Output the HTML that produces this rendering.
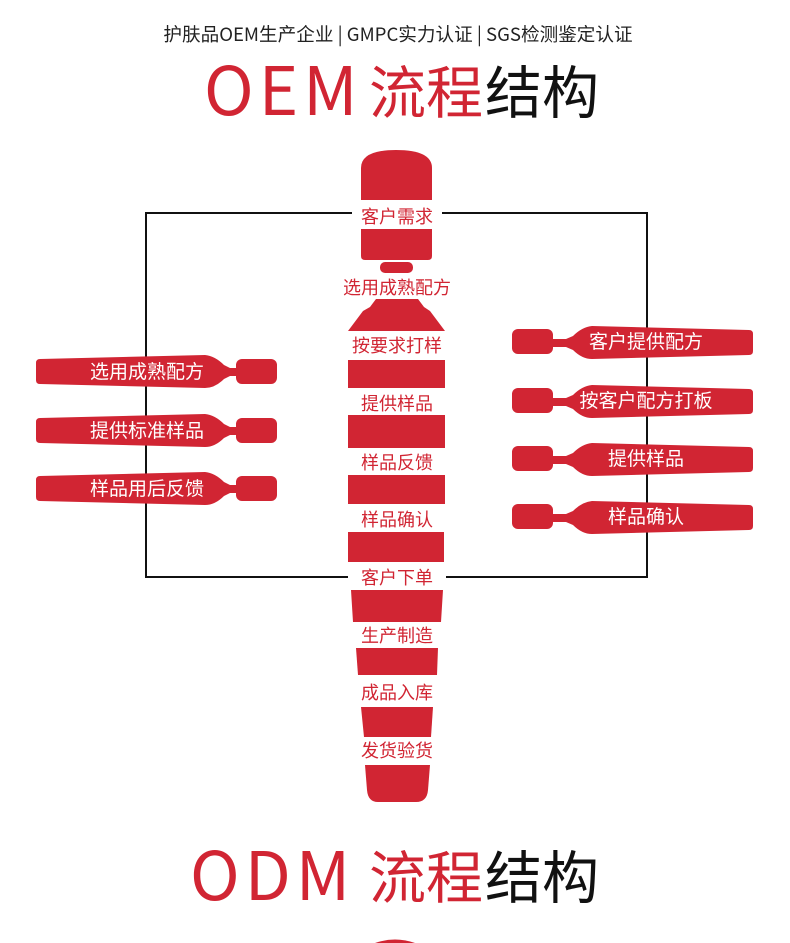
<!DOCTYPE html>
<html><head><meta charset="utf-8"><style>
html,body{margin:0;padding:0;background:#fff;}
svg{display:block;}
text{font-family:"Liberation Sans","Noto Sans CJK SC",sans-serif;}
.c{font-family:"Noto Sans CJK SC","Liberation Sans",sans-serif;}
.t{font-family:"Noto Sans CJK SC","Liberation Sans",sans-serif;font-weight:400;}
</style></head><body>
<svg width="790" height="943" viewBox="0 0 790 943" xmlns="http://www.w3.org/2000/svg">
<text x="398" y="41" text-anchor="middle" font-size="18.6" fill="#222" class="c">护肤品OEM生产企业 | GMPC实力认证 | SGS检测鉴定认证</text>
<text x="204" y="115" font-size="67" fill="#d12533" letter-spacing="5" class="t">OEM</text>
<text x="369" y="113" font-size="57" fill="#d12533" class="c">流程</text>
<text x="485" y="113" font-size="57" fill="#111" class="c">结构</text>

<g stroke="#111" stroke-width="2" fill="none">
<line x1="146" y1="213" x2="352" y2="213"/><line x1="442" y1="213" x2="647" y2="213"/>
<line x1="146" y1="577" x2="348" y2="577"/><line x1="446" y1="577" x2="647" y2="577"/>
<line x1="146" y1="212" x2="146" y2="578"/><line x1="647" y1="212" x2="647" y2="578"/>
</g>

<g fill="#d12533">
<path d="M361 200 L361 168 Q361 150 396 150 Q432 150 432 168 L432 200 Z"/>
<path d="M361 229 H432 V256 Q432 260 428 260 H365 Q361 260 361 256 Z"/>
<rect x="380" y="262" width="33" height="11" rx="5"/>
<path d="M376 299 H418 L424 307 L430 311 L445 331 H348 L363 311 L370 307 Z"/>
<rect x="348" y="360" width="97" height="28"/>
<rect x="348" y="415" width="97" height="33"/>
<rect x="348" y="475" width="97" height="29"/>
<rect x="348" y="532" width="96" height="30"/>
<path d="M351 590 H443 L441 622 H353 Z"/>
<path d="M356 648 H438 L437 675 H358 Z"/>
<path d="M361 707 H433 L431 737 H364 Z"/>
<path d="M365 765 H430 L428 790 Q427 802 416 802 H378 Q368 802 367 790 Z"/>

<g id="lp">
<path d="M40 359 L205 355 Q215 356 224 365 L230 368 L236 368 L236 376 L230 376 L224 379 Q215 388 205 388 L40 384 Q36 384 36 380 L36 363 Q36 359 40 359 Z"/>
<rect x="236" y="359" width="41" height="25" rx="6"/>
</g>
<use href="#lp" y="59"/>
<use href="#lp" y="117"/>
<g id="rp">
<path d="M749 330 L592 326 Q582 327 573 336 L566 339 L552 339 L552 347 L566 347 L573 350 Q582 359 592 359 L749 355 Q753 355 753 351 L753 334 Q753 330 749 330 Z"/>
<rect x="512" y="329" width="41" height="25" rx="6"/>
</g>
<use href="#rp" y="59"/>
<use href="#rp" y="117"/>
<use href="#rp" y="175"/>
</g>

<g fill="#d12533" font-size="18" text-anchor="middle" class="c">
<text x="397" y="223">客户需求</text>
<text x="397" y="294">选用成熟配方</text>
<text x="397" y="352">按要求打样</text>
<text x="397" y="410">提供样品</text>
<text x="397" y="469">样品反馈</text>
<text x="397" y="526">样品确认</text>
<text x="397" y="584">客户下单</text>
<text x="397" y="642">生产制造</text>
<text x="397" y="699">成品入库</text>
<text x="397" y="757">发货验货</text>
</g>
<g fill="#fff" font-size="19" text-anchor="middle" class="c">
<text x="147" y="378">选用成熟配方</text>
<text x="147" y="437">提供标准样品</text>
<text x="147" y="495">样品用后反馈</text>
<text x="646" y="348">客户提供配方</text>
<text x="646" y="407">按客户配方打板</text>
<text x="646" y="465">提供样品</text>
<text x="646" y="523">样品确认</text>
</g>

<text x="190" y="900" font-size="67" fill="#d12533" letter-spacing="5" class="t">ODM</text>
<text x="369" y="898" font-size="57" fill="#d12533" class="c">流程</text>
<text x="485" y="898" font-size="57" fill="#111" class="c">结构</text>
<path d="M375 943 Q395 936 415 943 Z" fill="#d12533"/>
</svg>
</body></html>
